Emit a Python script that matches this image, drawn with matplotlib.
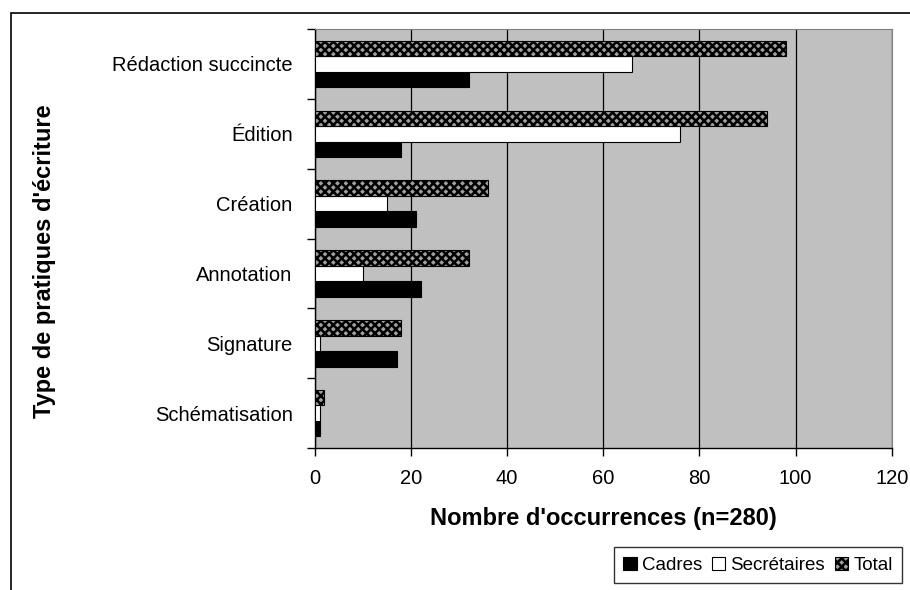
import numpy as np
import matplotlib.pyplot as plt
from matplotlib.patches import Rectangle

plt.rcParams['font.family'] = ['Liberation Sans', 'DejaVu Sans']
plt.rcParams['hatch.linewidth'] = 1.8

# Occurrences by writing practice
categories = ['Rédaction succincte', 'Édition', 'Création',
              'Annotation', 'Signature', 'Schématisation']
cadres = [32, 18, 21, 22, 17, 1]
secretaires = [66, 76, 15, 10, 1, 1]
total = [98, 94, 36, 32, 18, 2]

fig = plt.figure(figsize=(9.1, 5.9), dpi=100)
ax = fig.add_axes([0.346, 0.2407, 0.634, 0.710])

# outer chart frame
fig.patches.append(Rectangle((11 / 910, -0.1), 1.2, 1 - 13 / 590 + 0.1,
                             transform=fig.transFigure, fill=False,
                             edgecolor='black', linewidth=1.2))

n = len(categories)
y = np.arange(n)[::-1].astype(float)
h = 0.222

ax.barh(y - h, cadres, height=h, color='black', edgecolor='black',
        linewidth=0.8, label='Cadres', zorder=3)
ax.barh(y, secretaires, height=h, color='white', edgecolor='black',
        linewidth=0.8, label='Secrétaires', zorder=3)
ax.barh(y + h, total, height=h, color='#a0a0a0', edgecolor='black',
        hatch='xxxx', linewidth=0.8, label='Total', zorder=3)

ax.set_facecolor('#c0c0c0')
ax.set_xlim(0, 120)
ax.set_ylim(-0.5, n - 0.5)
ax.set_xticks(np.arange(0, 121, 20))
ax.xaxis.grid(True, color='black', linewidth=0.9, zorder=1)
ax.set_axisbelow(True)

ax.set_yticks(y)
ax.set_yticklabels(categories)
ax.set_yticks(np.arange(-0.5, n, 1.0), minor=True)
ax.tick_params(axis='y', which='major', length=0, pad=16, labelsize=14.5)
ax.tick_params(axis='y', which='minor', length=6, width=1, direction='out')
ax.tick_params(axis='x', length=6, width=1, direction='out', pad=9,
               labelsize=14.5)

for side in ['top', 'right']:
    ax.spines[side].set_color('#808080')
for side in ['left', 'bottom']:
    ax.spines[side].set_color('black')
    ax.spines[side].set_linewidth(1.0)

ax.set_xlabel("Nombre d'occurrences (n=280)", fontsize=17,
              fontweight='bold', labelpad=14)
fig.text(45 / 910, 1 - 261 / 590, "Type de pratiques d'écriture",
         rotation=90, fontsize=17, fontweight='bold',
         ha='center', va='center')

fig.legend(loc='lower right', bbox_to_anchor=(902 / 910, 1 - 583 / 590),
           ncol=3, fontsize=13.5, frameon=True, fancybox=False,
           edgecolor='black', handlelength=0.7, handleheight=0.7,
           handletextpad=0.3, columnspacing=0.5, borderpad=0.5,
           borderaxespad=0).get_frame().set_linewidth(1.0)

fig.savefig('out.png', dpi=100)
